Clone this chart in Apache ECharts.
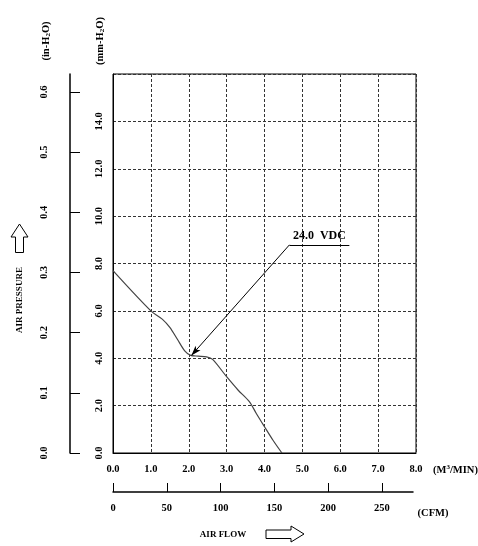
<!DOCTYPE html>
<html>
<head>
<meta charset="utf-8">
<script src="https://cdn.jsdelivr.net/npm/echarts@6/dist/echarts.min.js"></script>
<style>
  body { margin: 0; background: #fff; }
  #main { width: 478px; height: 546px; }
</style>
</head>
<body>
<div id="main"></div>
<script>
// curve: air flow (M3/MIN) vs pressure (mm-H2O)
const flow = [0, 1.0, 1.3, 1.5, 1.7, 1.9, 2.05, 2.25, 2.47, 2.63, 3.0, 3.3, 3.6, 3.78, 4.0, 4.22, 4.46];
const pressure = [7.7, 6.0, 5.65, 5.3, 4.8, 4.3, 4.12, 4.09, 4.06, 3.95, 3.22, 2.66, 2.17, 1.68, 1.11, 0.55, 0];

const inchTicks = [0, 0.1, 0.2, 0.3, 0.4, 0.5, 0.6];
const cfmTicks = [0, 50, 100, 150, 200, 250];

// annotation: label anchor, underline end, arrow tip (data coords)
const noteStart = [4.66, 8.79];
const noteEnd = [6.24, 8.79];
const noteTip = [2.07, 4.12];
const noteText = '24.0  VDC';

const FONT = 'Liberation Serif';
const labelStyle = { color: '#000', fontFamily: FONT, fontWeight: 'bold', fontSize: 10.5 };

const chart = echarts.init(document.getElementById('main'));

const option = {
    animation: false,
    backgroundColor: '#fff',
    grid: [
        { left: 113, top: 74, width: 303, height: 379, show: true, borderColor: '#000', borderWidth: 1 },
        { left: 113, top: 400, width: 300, height: 92 }
    ],
    xAxis: [
        {
            gridIndex: 0, type: 'value', min: 0, max: 8, interval: 1,
            axisLine: { lineStyle: { color: '#000', width: 1 } },
            axisTick: { show: false },
            axisLabel: { ...labelStyle, margin: 11, formatter: (v) => v.toFixed(1) },
            splitLine: { lineStyle: { color: '#333', type: [3, 2], width: 1 } }
        },
        {
            gridIndex: 1, type: 'value', min: 0, max: 279, position: 'bottom',
            axisLine: { lineStyle: { color: '#000', width: 1.5 } },
            axisTick: { inside: true, length: 9, customValues: cfmTicks, lineStyle: { color: '#000' } },
            axisLabel: { ...labelStyle, margin: 11, customValues: cfmTicks },
            splitLine: { show: false }
        }
    ],
    yAxis: [
        {
            gridIndex: 0, type: 'value', min: 0, max: 16, interval: 2,
            axisLine: { show: true, lineStyle: { color: '#000', width: 1 } },
            axisTick: { show: false },
            axisLabel: {
                ...labelStyle, rotate: 90, margin: 8, showMaxLabel: false,
                formatter: (v) => (v >= 16 ? '' : v.toFixed(1))
            },
            splitLine: { lineStyle: { color: '#333', type: [3, 2], width: 1 } }
        },
        {
            gridIndex: 0, type: 'value', min: 0, max: 16 / 25.4, position: 'left', offset: 43,
            axisLine: { show: true, lineStyle: { color: '#000', width: 1.5 } },
            axisTick: { show: true, inside: true, length: 10, customValues: inchTicks, lineStyle: { color: '#000' } },
            axisLabel: {
                ...labelStyle, rotate: 90, margin: 20, customValues: inchTicks,
                formatter: (v) => v.toFixed(1)
            },
            splitLine: { show: false }
        },
        { gridIndex: 1, show: false, min: 0, max: 1 }
    ],
    series: [
        {
            name: '24.0 VDC',
            type: 'line',
            xAxisIndex: 0,
            yAxisIndex: 0,
            data: flow.map((x, i) => [x, pressure[i]]),
            smooth: 0.3,
            showSymbol: false,
            lineStyle: { color: '#444', width: 1.2 },
            markLine: {
                silent: true,
                animation: false,
                lineStyle: { color: '#000', width: 1, type: 'solid' },
                data: [
                    [
                        { coord: noteStart, symbol: 'none', label: { show: false } },
                        { coord: noteTip, symbol: 'arrow', symbolSize: [5, 10] }
                    ],
                    [
                        { coord: noteStart, symbol: 'none' },
                        { coord: noteEnd, symbol: 'none' }
                    ]
                ],
                label: {
                    show: true,
                    position: 'insideMiddleTop',
                    distance: 3,
                    formatter: (p) => (p.dataIndex === 1 ? noteText : ''),
                    color: '#000', fontFamily: FONT, fontWeight: 'bold', fontSize: 12
                }
            }
        }
    ],
    graphic: [
        {
            type: 'text', x: 46, y: 41, rotation: Math.PI / 2,
            style: {
                text: '(in-H{s|2}O)', fill: '#000', font: 'bold 10.5px "' + FONT + '"',
                align: 'center', verticalAlign: 'middle',
                rich: { s: { fontSize: 7, fontFamily: FONT, fontWeight: 'bold', verticalAlign: 'bottom', padding: [5, 0, 0, 0] } }
            }
        },
        {
            type: 'text', x: 100, y: 41, rotation: Math.PI / 2,
            style: {
                text: '(mm-H{s|2}O)', fill: '#000', font: 'bold 10.5px "' + FONT + '"',
                align: 'center', verticalAlign: 'middle',
                rich: { s: { fontSize: 7, fontFamily: FONT, fontWeight: 'bold', verticalAlign: 'bottom', padding: [5, 0, 0, 0] } }
            }
        },
        {
            type: 'text', x: 20, y: 300, rotation: Math.PI / 2,
            style: {
                text: 'AIR PRESSURE', fill: '#000', font: 'bold 9px "' + FONT + '"',
                align: 'center', verticalAlign: 'middle'
            }
        },
        {
            type: 'polygon',
            shape: { points: [[15.5, 252.5], [15.5, 237], [11, 237], [19.5, 224], [28, 237], [23.5, 237], [23.5, 252.5]] },
            style: { fill: '#fff', stroke: '#000', lineWidth: 1 }
        },
        {
            type: 'text', x: 433, y: 470,
            style: {
                text: '(M{p|3}/MIN)', fill: '#000', font: 'bold 10.5px "' + FONT + '"',
                align: 'left', verticalAlign: 'middle',
                rich: { p: { fontSize: 7, fontFamily: FONT, fontWeight: 'bold', verticalAlign: 'top', padding: [0, 0, 5, 0] } }
            }
        },
        {
            type: 'text', x: 433, y: 513,
            style: {
                text: '(CFM)', fill: '#000', font: 'bold 10.5px "' + FONT + '"',
                align: 'center', verticalAlign: 'middle'
            }
        },
        {
            type: 'text', x: 223, y: 535,
            style: {
                text: 'AIR FLOW', fill: '#000', font: 'bold 9px "' + FONT + '"',
                align: 'center', verticalAlign: 'middle'
            }
        },
        {
            type: 'polygon',
            shape: { points: [[266, 530], [291, 530], [291, 526], [304, 534], [291, 542], [291, 538.5], [266, 538.5]] },
            style: { fill: '#fff', stroke: '#000', lineWidth: 1 }
        }
    ]
};

chart.setOption(option);
</script>
</body>
</html>
